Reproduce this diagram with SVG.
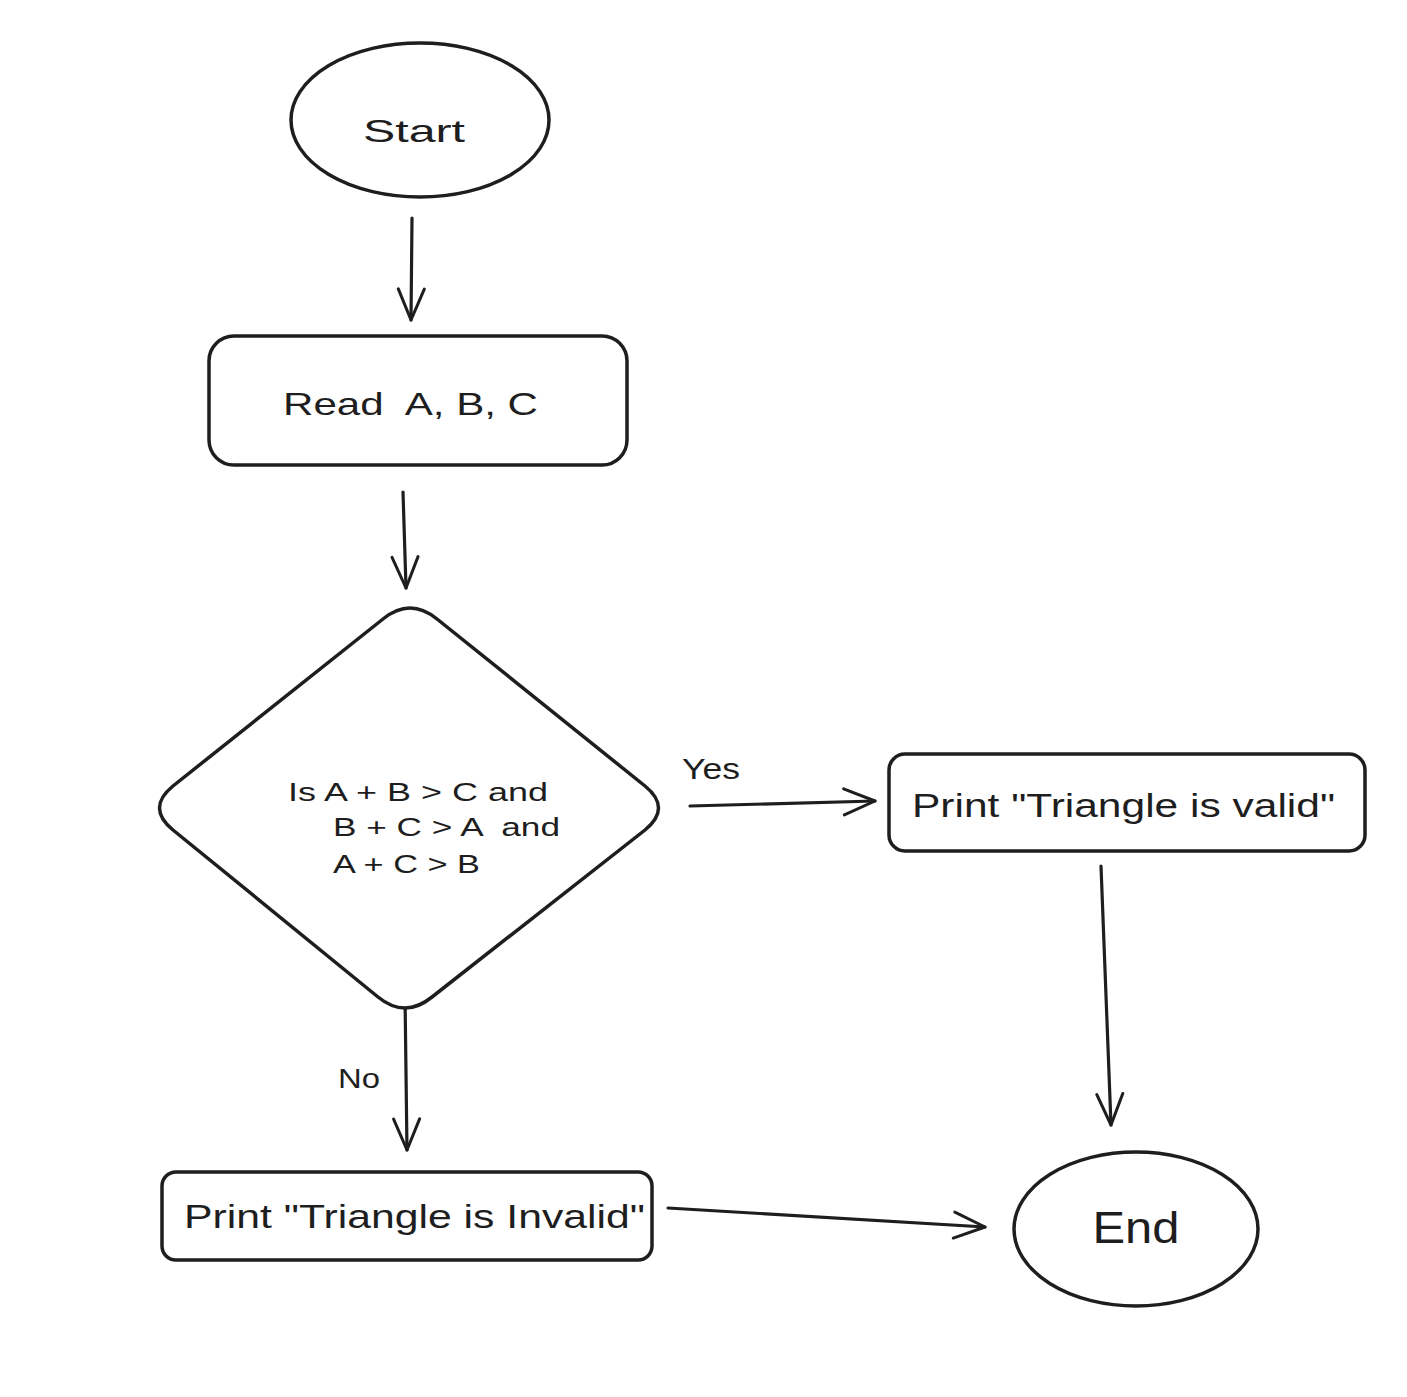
<svg xmlns="http://www.w3.org/2000/svg" width="1407" height="1397" viewBox="0 0 1407 1397">
<style>
.shape{fill:#ffffff;stroke:#1e1e1e;stroke-width:3.5;stroke-linejoin:round}
.conn{fill:none;stroke:#1e1e1e;stroke-width:3.2;stroke-linecap:round}
.t{font-family:"Liberation Sans","DejaVu Sans",sans-serif;fill:#1e1e1e;white-space:pre}
</style>
<defs>
<marker id="ah" viewBox="0 0 36 30" refX="33" refY="15" markerWidth="36" markerHeight="30" markerUnits="userSpaceOnUse" orient="auto">
<path d="M2,2 L33,15 L2,28" fill="none" stroke="#1e1e1e" stroke-width="3" stroke-linecap="round" stroke-linejoin="round"/>
</marker>
</defs>
<rect width="1407" height="1397" fill="#ffffff"/>
<g id="connectors">
<path class="conn" d="M412,218 L411,320" marker-end="url(#ah)"/>
<path class="conn" d="M403,492 L406,588" marker-end="url(#ah)"/>
<path class="conn" d="M690,806 L875,801" marker-end="url(#ah)"/>
<path class="conn" d="M1101,866 L1111,1125" marker-end="url(#ah)"/>
<path class="conn" d="M405,995 L407,1150" marker-end="url(#ah)"/>
<path class="conn" d="M668,1208 L985,1227" marker-end="url(#ah)"/>
<text class="t" x="682" y="779" font-size="30" textLength="58" lengthAdjust="spacingAndGlyphs">Yes</text>
<text class="t" x="338" y="1088" font-size="28" textLength="42" lengthAdjust="spacingAndGlyphs">No</text>
</g>
<g id="start">
<ellipse class="shape" cx="420" cy="120" rx="129" ry="77"/>
<text class="t" x="414" y="142" font-size="32" text-anchor="middle" textLength="102" lengthAdjust="spacingAndGlyphs">Start</text>
</g>
<g id="read">
<rect class="shape" x="209" y="336" width="418" height="129" rx="25"/>
<text class="t" x="283" y="415" font-size="32" textLength="255" lengthAdjust="spacingAndGlyphs">Read  A, B, C</text>
</g>
<g id="decision">
<path class="shape" d="M383,619 Q410,597 437,619 L645,786 Q672,808 645,830 L432,997 Q405,1019 378,997 L173,830 Q146,808 173,786 Z"/>
<text class="t" x="288" y="801" font-size="25" textLength="260" lengthAdjust="spacingAndGlyphs">Is A + B &gt; C and</text>
<text class="t" x="333" y="836" font-size="25" textLength="227" lengthAdjust="spacingAndGlyphs">B + C &gt; A  and</text>
<text class="t" x="333" y="873" font-size="25" textLength="147" lengthAdjust="spacingAndGlyphs">A + C &gt; B</text>
</g>
<g id="valid">
<rect class="shape" x="889" y="754" width="476" height="97" rx="16"/>
<text class="t" x="912" y="817" font-size="34" textLength="423" lengthAdjust="spacingAndGlyphs">Print "Triangle is valid"</text>
</g>
<g id="invalid">
<rect class="shape" x="162" y="1172" width="490" height="88" rx="14"/>
<text class="t" x="184" y="1228" font-size="34" textLength="461" lengthAdjust="spacingAndGlyphs">Print "Triangle is Invalid"</text>
</g>
<g id="end">
<ellipse class="shape" cx="1136" cy="1229" rx="122" ry="77"/>
<text class="t" x="1136" y="1243" font-size="44" text-anchor="middle" textLength="87" lengthAdjust="spacingAndGlyphs">End</text>
</g>
</svg>
